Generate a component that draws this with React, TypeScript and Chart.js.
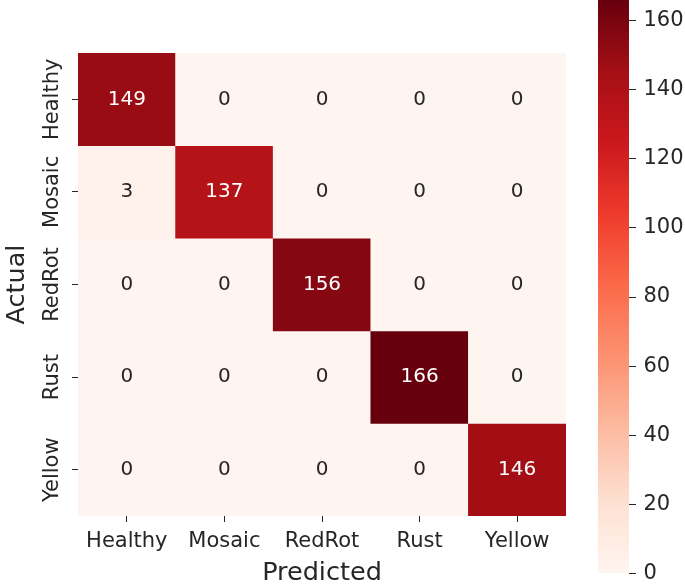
import React, { useEffect, useRef } from 'react';
import { Chart, registerables } from 'chart.js';

Chart.register(...registerables);

const predictedLabels = ['Healthy', 'Mosaic', 'RedRot', 'Rust', 'Yellow'];
const actualLabels = ['Healthy', 'Mosaic', 'RedRot', 'Rust', 'Yellow'];
const healthyRow = [149, 0, 0, 0, 0];
const mosaicRow = [3, 137, 0, 0, 0];
const redRotRow = [0, 0, 156, 0, 0];
const rustRow = [0, 0, 0, 166, 0];
const yellowRow = [0, 0, 0, 0, 146];
const matrixRows = [healthyRow, mosaicRow, redRotRow, rustRow, yellowRow];
const colorbarTicks = [0, 20, 40, 60, 80, 100, 120, 140, 160];

const REDS = [
  [255, 245, 240],
  [254, 224, 210],
  [252, 187, 161],
  [252, 146, 114],
  [251, 106, 74],
  [239, 59, 44],
  [203, 24, 29],
  [165, 15, 21],
  [103, 0, 13],
];

const vmin = 0;
const vmax = Math.max(...matrixRows.map((r) => Math.max(...r)));

function redsRGB(t: number): number[] {
  const tt = Math.max(0, Math.min(1, t)) * (REDS.length - 1);
  const i = Math.min(REDS.length - 2, Math.floor(tt));
  const f = tt - i;
  const a = REDS[i];
  const b = REDS[i + 1];
  return [0, 1, 2].map((k) => Math.round(a[k] + (b[k] - a[k]) * f));
}
function rgbStr(c: number[]) {
  return `rgb(${c[0]},${c[1]},${c[2]})`;
}
function cellColor(v: number) {
  return rgbStr(redsRGB((v - vmin) / (vmax - vmin)));
}
function textColor(v: number) {
  const c = redsRGB((v - vmin) / (vmax - vmin)).map((x) => {
    const s = x / 255;
    return s <= 0.03928 ? s / 12.92 : Math.pow((s + 0.055) / 1.055, 2.4);
  });
  const lum = 0.2126 * c[0] + 0.7152 * c[1] + 0.0722 * c[2];
  return lum > 0.408 ? '#262626' : '#ffffff';
}

const FONT = "'DejaVu Sans', sans-serif";
const INK = '#262626';

const annotatePlugin = {
  id: 'annotateCells',
  afterDatasetsDraw(chart: any) {
    const ctx = chart.ctx;
    ctx.save();
    ctx.font = `20px ${FONT}`;
    ctx.textAlign = 'center';
    ctx.textBaseline = 'middle';
    chart.data.datasets.forEach((_ds: any, di: number) => {
      const meta = chart.getDatasetMeta(di);
      meta.data.forEach((el: any, ci: number) => {
        const v = matrixRows[di][ci];
        const p = el.getProps(['x', 'y', 'base'], true);
        ctx.fillStyle = textColor(v);
        ctx.fillText(String(v), p.x, (p.y + p.base) / 2);
      });
    });
    ctx.restore();
  },
};

export default function App() {
  const mainRef = useRef<HTMLCanvasElement>(null);
  const barRef = useRef<HTMLCanvasElement>(null);

  useEffect(() => {
    Chart.defaults.font.family = FONT;
    Chart.defaults.color = INK;

    const main = new Chart(mainRef.current as HTMLCanvasElement, {
      type: 'bar',
      data: {
        labels: predictedLabels,
        datasets: matrixRows.map((row, r) => ({
          label: actualLabels[r],
          data: row.map(() => [r, r + 1]),
          backgroundColor: row.map((v) => cellColor(v)),
          borderWidth: 0,
          barPercentage: 1,
          categoryPercentage: 1,
          grouped: false,
        })),
      } as any,
      options: {
        responsive: false,
        animation: false,
        events: [],
        layout: { padding: { top: 53, right: 24, left: 0, bottom: 0 } },
        plugins: { legend: { display: false }, tooltip: { enabled: false } },
        scales: {
          x: {
            type: 'category',
            offset: true,
            grid: { display: true, offset: false, drawOnChartArea: false, drawTicks: true, tickLength: 6, color: INK },
            border: { display: false },
            ticks: { color: INK, font: { size: 21 }, padding: 7, minRotation: 0, maxRotation: 0, autoSkip: false },
            title: { display: true, text: 'Predicted', font: { size: 25.5, lineHeight: 0.8 }, color: INK, padding: 0 },
            afterFit: (s: any) => {
              s.height = 68;
            },
          },
          y: {
            type: 'linear',
            min: 0,
            max: actualLabels.length,
            reverse: true,
            afterBuildTicks: (s: any) => {
              s.ticks = actualLabels.map((_, i) => ({ value: i + 0.5 }));
            },
            ticks: {
              callback: (_v: any, i: number) => actualLabels[i],
              color: INK,
              font: { size: 21 },
              minRotation: 90,
              maxRotation: 90,
              crossAlign: 'center',
              padding: -21.5,
              autoSkip: false,
            },
            grid: { display: true, drawOnChartArea: false, drawTicks: true, tickLength: 6, color: INK },
            border: { display: false },
            title: { display: true, text: 'Actual', font: { size: 25.5 }, color: INK, padding: { top: 2 } },
            afterFit: (s: any) => {
              s.width = 78;
            },
          },
        },
      } as any,
      plugins: [annotatePlugin],
    });

    const bar = new Chart(barRef.current as HTMLCanvasElement, {
      type: 'bar',
      data: {
        labels: [''],
        datasets: [
          {
            data: [[vmin, vmax]],
            backgroundColor: (c: any) => {
              const ch = c.chart;
              if (!ch.chartArea) return rgbStr(REDS[0]);
              const ys = ch.scales.y;
              const g = ch.ctx.createLinearGradient(0, ys.getPixelForValue(vmin), 0, ys.getPixelForValue(vmax));
              REDS.forEach((col, i) => g.addColorStop(i / (REDS.length - 1), rgbStr(col)));
              return g;
            },
            borderWidth: 0,
            barPercentage: 1,
            categoryPercentage: 1,
          },
        ],
      } as any,
      options: {
        responsive: false,
        animation: false,
        events: [],
        layout: { padding: { left: 8, top: -2.6, bottom: 10.7, right: 0 } },
        plugins: { legend: { display: false }, tooltip: { enabled: false } },
        scales: {
          x: { display: false },
          y: {
            position: 'right',
            min: vmin,
            max: vmax,
            afterBuildTicks: (s: any) => {
              s.ticks = colorbarTicks.map((v) => ({ value: v }));
            },
            ticks: { color: INK, font: { size: 21 }, padding: 7.5 },
            grid: { display: true, drawOnChartArea: false, drawTicks: true, tickLength: 7, color: INK },
            border: { display: false },
            afterFit: (s: any) => {
              s.width = 56;
              s.paddingTop = 0;
              s.paddingBottom = 0;
            },
          },
        },
      } as any,
    });

    return () => {
      main.destroy();
      bar.destroy();
    };
  }, []);

  return (
    <div style={{ position: 'absolute', left: 0, top: 0, width: 685, height: 584, background: '#fff', overflow: 'hidden' }}>
      <canvas ref={mainRef} width={590} height={584} style={{ position: 'absolute', left: 0, top: 0 }} />
      <canvas ref={barRef} width={95} height={584} style={{ position: 'absolute', left: 590, top: 0 }} />
    </div>
  );
}
